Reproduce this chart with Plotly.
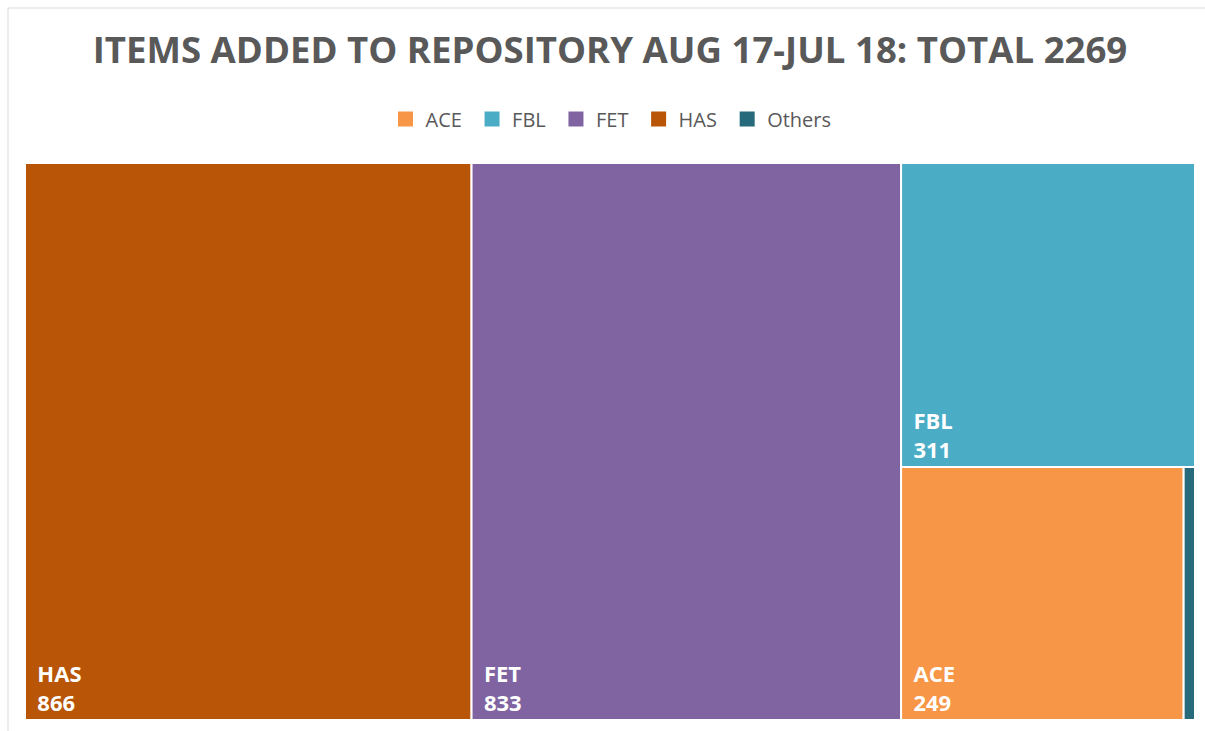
import plotly.graph_objects as go

categories = ["HAS", "FET", "FBL", "ACE", "Others"]
values = [866, 833, 311, 249, 10]
colors = ["#B85507", "#8064A2", "#4BACC6", "#F79646", "#276A7C"]
legend_order = ["ACE", "FBL", "FET", "HAS", "Others"]
title_text = "ITEMS ADDED TO REPOSITORY AUG 17-JUL 18: TOTAL 2269"

color_map = dict(zip(categories, colors))
pad = "\u00a0\u2009"
templates = [f"<b>{pad}%{{label}}</b><br><b>{pad}%{{value}}</b>" if c != "Others" else "" for c in categories]

W, H = 1205, 731
fig = go.Figure()
fig.add_trace(go.Treemap(
    labels=categories,
    parents=[""] * len(categories),
    values=values,
    sort=True,
    marker=dict(colors=colors, line=dict(color="white", width=2), pad=dict(t=0, l=0, r=0, b=0)),
    tiling=dict(packing="squarify", squarifyratio=1, pad=0),
    pathbar=dict(visible=False),
    texttemplate=templates,
    textposition="bottom left",
    textfont=dict(family="Open Sans", size=22, color="white"),
    hoverinfo="label+value",
    domain=dict(x=[25 / W, 1195 / W], y=[11 / H, 1 - 163 / H]),
))

for name in legend_order:
    fig.add_trace(go.Scatter(
        x=[None], y=[None], mode="markers", name=name + "\u00a0",
        marker=dict(symbol="square", size=15, color=color_map[name]),
        showlegend=True,
    ))

fig.update_layout(
    width=W, height=H,
    margin=dict(l=0, r=0, t=0, b=0),
    paper_bgcolor="white", plot_bgcolor="white",
    title=dict(text=f"<b>{title_text}</b>", x=610 / W, xanchor="center", y=1 - 50 / H, yanchor="middle",
               font=dict(family="Open Sans", size=36.6, color="#595959")),
    legend=dict(orientation="h", x=0.5 + 11 / W, xanchor="center", y=1 - 119 / H, yanchor="middle",
                font=dict(family="Open Sans", size=20, color="#595959"), itemwidth=30),
    xaxis=dict(visible=False), yaxis=dict(visible=False),
    shapes=[dict(type="rect", xref="paper", yref="paper", x0=8 / W, x1=1.01, y0=-0.01, y1=1 - 8 / H,
                 line=dict(color="#D9D9D9", width=1), fillcolor="rgba(0,0,0,0)", layer="below")],
)

fig.write_html("out.html", config={"displayModeBar": False},
               post_script="document.body.style.margin='0';document.body.style.overflow='hidden';")
